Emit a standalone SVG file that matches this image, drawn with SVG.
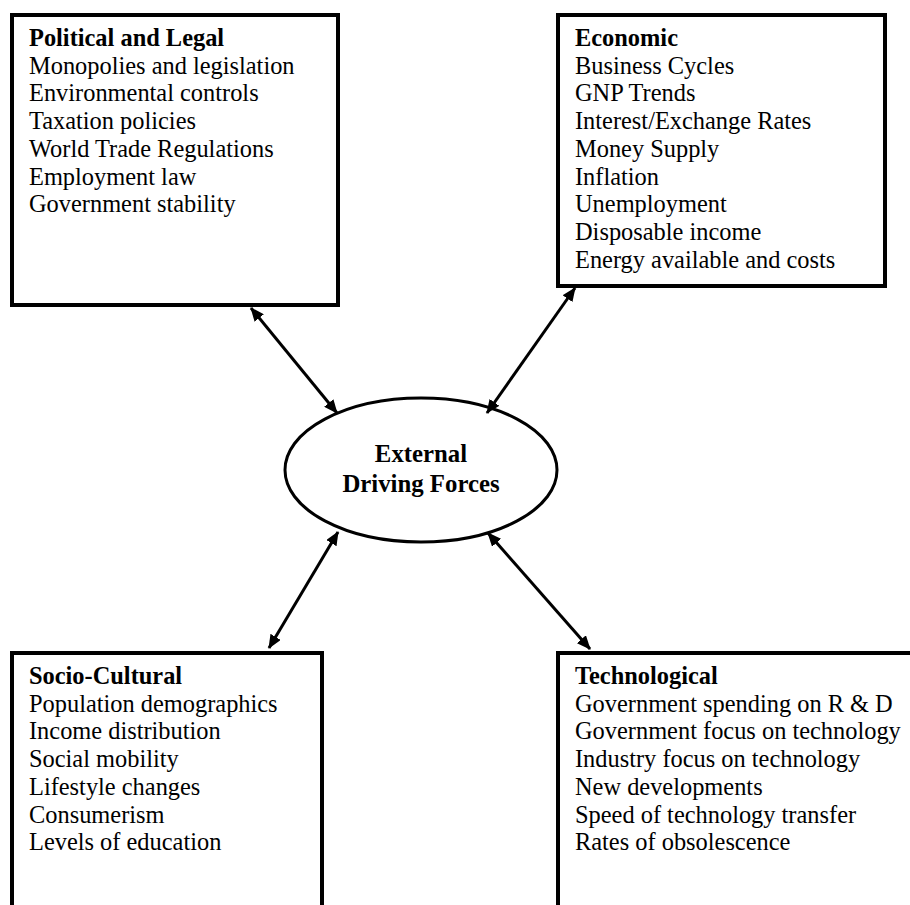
<svg xmlns="http://www.w3.org/2000/svg" width="910" height="905" viewBox="0 0 910 905">
<defs>
<style>
.box{fill:#fff;stroke:#000;stroke-width:4}
.t{font-family:"Liberation Serif","Times New Roman",serif;font-size:24.4px;fill:#000}
.h{font-weight:bold}
.e{font-size:24.8px}
.c{stroke:#000;stroke-width:3;fill:none;marker-start:url(#ah);marker-end:url(#ah)}
</style>
<marker id="ah" viewBox="0 0 14 12" refX="13" refY="6" markerWidth="14" markerHeight="12" markerUnits="userSpaceOnUse" orient="auto-start-reverse">
<path d="M0,0 L14,6 L0,12 z" fill="#000"/>
</marker>
</defs>
<rect width="910" height="905" fill="#fff"/>
<g id="political">
<rect class="box" x="12" y="15" width="326" height="290"/>
<text class="t" x="29" y="46"><tspan class="h">Political and Legal</tspan><tspan x="29" dy="27.7">Monopolies and legislation</tspan><tspan x="29" dy="27.7">Environmental controls</tspan><tspan x="29" dy="27.7">Taxation policies</tspan><tspan x="29" dy="27.7">World Trade Regulations</tspan><tspan x="29" dy="27.7">Employment law</tspan><tspan x="29" dy="27.7">Government stability</tspan></text>
</g>
<g id="economic">
<rect class="box" x="558" y="15" width="327" height="271"/>
<text class="t" x="575" y="46"><tspan class="h">Economic</tspan><tspan x="575" dy="27.7">Business Cycles</tspan><tspan x="575" dy="27.7">GNP Trends</tspan><tspan x="575" dy="27.7">Interest/Exchange Rates</tspan><tspan x="575" dy="27.7">Money Supply</tspan><tspan x="575" dy="27.7">Inflation</tspan><tspan x="575" dy="27.7">Unemployment</tspan><tspan x="575" dy="27.7">Disposable income</tspan><tspan x="575" dy="27.7">Energy available and costs</tspan></text>
</g>
<g id="center">
<ellipse cx="421" cy="470" rx="136" ry="72" fill="#fff" stroke="#000" stroke-width="3"/>
<text class="t h e" x="421" y="462" text-anchor="middle">External</text>
<text class="t h e" x="421" y="492" text-anchor="middle">Driving Forces</text>
</g>
<g id="socio">
<rect class="box" x="12" y="653" width="310" height="270"/>
<text class="t" x="29" y="684"><tspan class="h">Socio-Cultural</tspan><tspan x="29" dy="27.7">Population demographics</tspan><tspan x="29" dy="27.7">Income distribution</tspan><tspan x="29" dy="27.7">Social mobility</tspan><tspan x="29" dy="27.7">Lifestyle changes</tspan><tspan x="29" dy="27.7">Consumerism</tspan><tspan x="29" dy="27.7">Levels of education</tspan></text>
</g>
<g id="technological">
<rect class="box" x="558" y="653" width="370" height="270"/>
<text class="t" x="575" y="684"><tspan class="h">Technological</tspan><tspan x="575" dy="27.7">Government spending on R &amp; D</tspan><tspan x="575" dy="27.7">Government focus on technology</tspan><tspan x="575" dy="27.7">Industry focus on technology</tspan><tspan x="575" dy="27.7">New developments</tspan><tspan x="575" dy="27.7">Speed of technology transfer</tspan><tspan x="575" dy="27.7">Rates of obsolescence</tspan></text>
</g>
<g id="connectors">
<line class="c" x1="251" y1="308" x2="337" y2="413"/>
<line class="c" x1="575" y1="288" x2="487" y2="413"/>
<line class="c" x1="338" y1="532" x2="269" y2="648"/>
<line class="c" x1="488" y1="533" x2="590" y2="649"/>
</g>
</svg>
